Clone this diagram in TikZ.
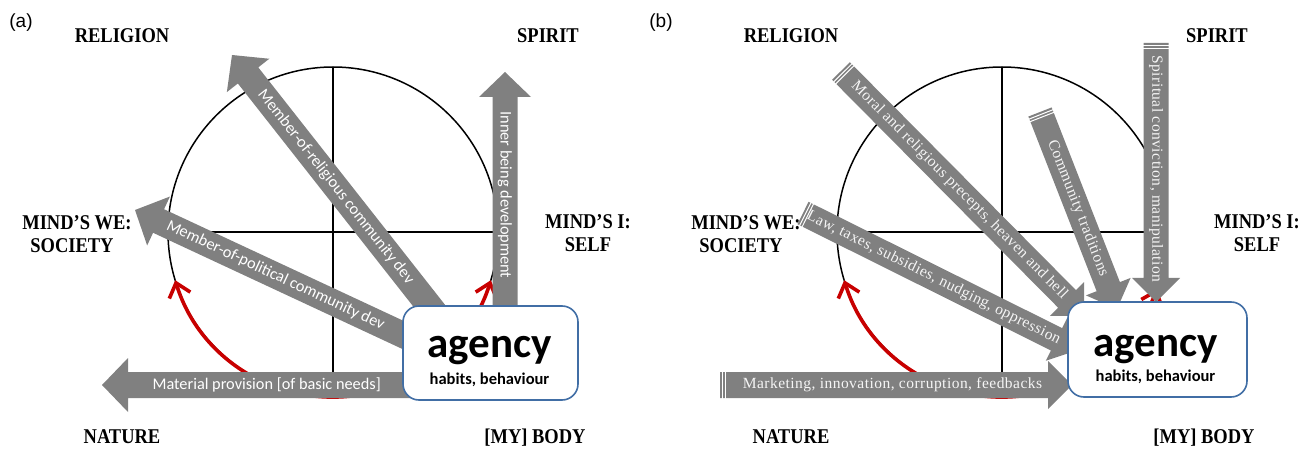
\documentclass[tikz,border=0pt]{standalone}
\usepackage{fontspec}
\setmainfont{Liberation Serif}
\newfontfamily\calibri{Carlito}
\newfontfamily\arialf{Liberation Sans}
\newfontfamily\labfont[FakeStretch=0.88]{Liberation Serif}
\usetikzlibrary{calc,arrows.meta}
\definecolor{arrowgray}{RGB}{128,128,128}
\definecolor{boxblue}{RGB}{65,110,165}
\definecolor{cyclered}{RGB}{200,0,0}
% fat block arrow: tail, tip, half shaft, half head, head length
\newcommand{\fatarrow}[5]{%
  \coordinate (hb) at ($(#2)!#5!(#1)$);
  \fill[arrowgray] ($(#1)!#3!90:(#2)$) -- ($(hb)!#3!-90:(#1)$) -- ($(hb)!#4!-90:(#1)$) -- (#2)
    -- ($(hb)!#4!90:(#1)$) -- ($(hb)!#3!90:(#1)$) -- ($(#1)!#3!-90:(#2)$) -- cycle;}
% white stripes at the tail: tail, tip, half width
\newcommand{\tailstripes}[3]{%
  \coordinate (sa) at ($(#1)!2.6pt!(#2)$);
  \coordinate (sb) at ($(#1)!5.4pt!(#2)$);
  \draw[white, line width=1pt] ($(sa)!#3!90:(#2)$) -- ($(sa)!#3!-90:(#2)$);
  \draw[white, line width=1pt] ($(sb)!#3!90:(#2)$) -- ($(sb)!#3!-90:(#2)$);}
\begin{document}
\begin{tikzpicture}[x=1pt,y=-1pt,
  lab/.style={font=\labfont\fontsize{21}{22}\selectfont\bfseries, anchor=base, inner sep=0pt},
  txtA/.style={font=\calibri\fontsize{16.3}{16}\selectfont, text=white, inner sep=0pt},
  txtB/.style={font=\fontsize{15.5}{16}\selectfont\addfontfeature{LetterSpace=3}, text=gray!8, inner sep=0pt},
  panel/.style={font=\arialf\fontsize{19}{20}\selectfont, anchor=base, inner sep=0pt},
  cyc/.style={line width=1.5pt, black},
  redarc/.style={cyclered, line width=3.6pt,
    {Straight Barb[length=13pt,width=22pt]}-{Straight Barb[length=13pt,width=22pt]}},
  agencybox/.style={draw=boxblue, line width=1.6pt, fill=white, rounded corners=16pt, inner sep=0pt},
  bigtxt/.style={font=\calibri\bfseries\fontsize{43}{43}\selectfont, anchor=base, inner sep=0pt},
  smalltxt/.style={font=\calibri\bfseries\fontsize{16.5}{16}\selectfont, anchor=base, inner sep=0pt}
]
\useasboundingbox (0,0) rectangle (1310,449);

% ================= labels =================
\node[panel] (pa) at (21,28) {(a)};
\node[lab] (relA) at (122,43) {RELIGION};
\node[lab] (spiA) at (548,43) {SPIRIT};
\node[lab] (weA) at (77,230) {MIND’S WE:};
\node[lab] (socA) at (72,253) {SOCIETY};
\node[lab] (iA) at (588,229) {MIND’S I:};
\node[lab] (selfA) at (588,252) {SELF};
\node[lab] (natA) at (122,443) {NATURE};
\node[lab] (bodA) at (535,443) {[MY] BODY};

\node[panel] (pb) at (661,28) {(b)};
\node[lab] (relB) at (791,43) {RELIGION};
\node[lab] (spiB) at (1217,43) {SPIRIT};
\node[lab] (weB) at (746,230) {MIND’S WE:};
\node[lab] (socB) at (741,253) {SOCIETY};
\node[lab] (iB) at (1257,229) {MIND’S I:};
\node[lab] (selfB) at (1257,252) {SELF};
\node[lab] (natB) at (791,443) {NATURE};
\node[lab] (bodB) at (1204,443) {[MY] BODY};

% ================= panel (a) =================
\coordinate (cA) at (333,232);
\draw[cyc] (cA) circle[radius=165];
\draw[cyc] (168,232) -- (498,232);
\draw[cyc] (333,67) -- (333,397);
\draw[redarc] (cA) ++(163:165) arc[start angle=163, end angle=17, radius=165];

\coordinate (RtipA) at (232,55);   \coordinate (RtailA) at (442,322);
\coordinate (PtipA) at (135,210);  \coordinate (PtailA) at (416,341);
\coordinate (ItipA) at (505,72);   \coordinate (ItailA) at (505,325);
\coordinate (MtipA) at (102,385);  \coordinate (MtailA) at (425,385);
\fatarrow{RtailA}{RtipA}{13pt}{27pt}{26pt}
\fatarrow{PtailA}{PtipA}{13pt}{27pt}{26pt}
\fatarrow{ItailA}{ItipA}{12.5pt}{26pt}{25pt}
\fatarrow{MtailA}{MtipA}{13pt}{27pt}{26pt}
\path (RtipA) -- (RtailA) node[pos=0.494, sloped, txtA] {Member-of-religious community dev};
\path (PtipA) -- (PtailA) node[pos=0.5, sloped, txtA] {Member-of-political community dev};
\path (ItipA) -- (ItailA) node[pos=0.486, sloped, txtA] {Inner being development};
\path (MtipA) -- (MtailA) node[pos=0.51, sloped, txtA] {Material provision [of basic needs]};

\node[agencybox, minimum width=175pt, minimum height=94pt] (agA) at (490.5,353) {};
\node[bigtxt] (agTA) at (489.5,357) {agency};
\node[smalltxt] (habA) at (489.5,384) {habits, behaviour};

% ================= panel (b) =================
\coordinate (cB) at (1002,232);
\draw[cyc] (cB) circle[radius=165];
\draw[cyc] (837,232) -- (1167,232);
\draw[cyc] (1002,67) -- (1002,397);
\draw[redarc] (cB) ++(163:165) arc[start angle=163, end angle=20, radius=165];

\coordinate (StailB) at (1156,43);   \coordinate (StipB) at (1156,302);
\coordinate (CtailB) at (1040,112);  \coordinate (CtipB) at (1117,309);
\coordinate (OtailB) at (841,71);    \coordinate (OtipB) at (1084,316);
\coordinate (LtailB) at (803,213);   \coordinate (LtipB) at (1078,350);
\coordinate (KtailB) at (720,385);   \coordinate (KtipB) at (1072,385);
\fatarrow{StailB}{StipB}{12.5pt}{24pt}{24pt}
\fatarrow{CtailB}{CtipB}{12.5pt}{24pt}{24pt}
\fatarrow{OtailB}{OtipB}{12.5pt}{24pt}{24pt}
\fatarrow{LtailB}{LtipB}{12.5pt}{24pt}{24pt}
\fatarrow{KtailB}{KtipB}{13pt}{24pt}{24pt}
\tailstripes{StailB}{StipB}{13pt}
\tailstripes{CtailB}{CtipB}{13pt}
\tailstripes{OtailB}{OtipB}{13pt}
\tailstripes{LtailB}{LtipB}{13pt}
\tailstripes{KtailB}{KtipB}{13.5pt}
\path (StailB) -- (StipB) node[pos=0.486, sloped, txtB] {Spiritual conviction, manipulation};
\path (CtailB) -- (CtipB) node[pos=0.49, sloped, txtB] {Community traditions};
\path (OtailB) -- (OtipB) node[pos=0.487, sloped, txtB] {Moral and religious precepts, heaven and hell};
\path (LtailB) -- (LtipB) node[pos=0.475, sloped, txtB] {Law, taxes, subsidies, nudging, oppression};
\path (KtailB) -- (KtipB) node[pos=0.49, sloped, txtB] {Marketing, innovation, corruption, feedbacks};

\node[agencybox, minimum width=179pt, minimum height=95pt] (agB) at (1157.5,349.5) {};
\node[bigtxt] (agTB) at (1155.5,356) {agency};
\node[smalltxt] (habB) at (1155.5,381) {habits, behaviour};
\end{tikzpicture}
\end{document}
